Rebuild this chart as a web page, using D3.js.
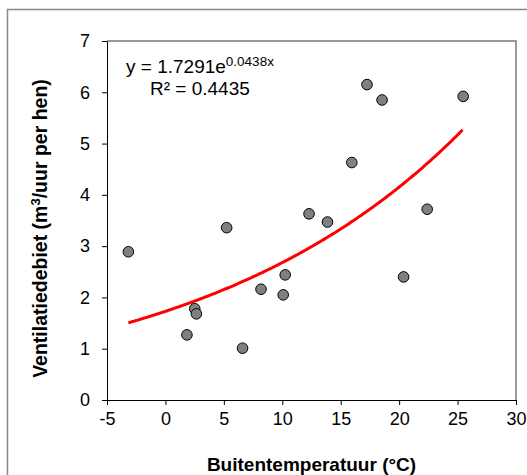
<!DOCTYPE html>
<html>
<head>
<meta charset="utf-8">
<script src="https://cdn.jsdelivr.net/npm/d3@7"></script>
<style>
body { margin: 0; background: #fff; }
text { font-family: Arial, "Liberation Sans", sans-serif; }
</style>
</head>
<body>
<script>
var w = 527;
var h = 475;

// buitentemperatuur (°C) and ventilatiedebiet (m3/uur per hen)
var temperature = [-3.17, 1.84, 2.51, 2.65, 5.24, 6.60, 8.18, 10.08, 10.25,
                   12.29, 13.87, 15.95, 17.25, 18.54, 20.38, 22.40, 25.48];
var ventilation = [2.89, 1.27, 1.78, 1.68, 3.36, 1.01, 2.16, 2.05, 2.44,
                   3.63, 3.47, 4.63, 6.15, 5.85, 2.40, 3.72, 5.92];

var xTicks = [-5, 0, 5, 10, 15, 20, 25, 30];
var yTicks = [0, 1, 2, 3, 4, 5, 6, 7];

// exponential trend line from the chart: y = a * e^(b x)
var fitA = 1.7291;
var fitB = 0.0438;
var r2 = 0.4435;

var margin = {left: 107, right: 11, top: 41, bottom: 75};

var xScale = d3.scaleLinear()
    .domain([-5, 30])
    .range([margin.left, w - margin.right]);

var yScale = d3.scaleLinear()
    .domain([0, 7])
    .range([h - margin.bottom, margin.top]);

var svg = d3.select("body")
    .append("svg")
    .attr("width", w)
    .attr("height", h);

// outer frame
svg.append("rect")
    .attr("x", 7.5)
    .attr("y", 9.5)
    .attr("width", w + 10)
    .attr("height", h + 10)
    .attr("fill", "none")
    .attr("stroke", "#888")
    .attr("stroke-width", 1.5);

// plot area top and right border
svg.append("path")
    .attr("d", "M" + xScale(-5) + "," + yScale(7) + "H" + xScale(30) + "V" + yScale(0))
    .attr("fill", "none")
    .attr("stroke", "#999")
    .attr("stroke-width", 2);

var xAxis = d3.axisBottom(xScale)
    .tickValues(xTicks)
    .tickSize(5)
    .tickSizeOuter(0)
    .tickPadding(7)
    .tickFormat(function(d){ return String(d); });

var yAxis = d3.axisLeft(yScale)
    .tickValues(yTicks)
    .tickSize(5)
    .tickSizeOuter(0)
    .tickPadding(12)
    .tickFormat(function(d){ return String(d); });

var gx = svg.append("g")
    .attr("transform", "translate(0," + yScale(0) + ")")
    .call(xAxis);

var gy = svg.append("g")
    .attr("transform", "translate(" + xScale(-5) + ",0)")
    .call(yAxis);

[gx, gy].forEach(function(g){
    g.selectAll("path, line").attr("stroke", "#000").attr("stroke-width", 1);
    g.selectAll("text")
        .attr("fill", "#000")
        .attr("font-size", "18px")
        .attr("font-family", "Arial, 'Liberation Sans', sans-serif");
});

// trend line
var curveX = d3.range(d3.min(temperature), d3.max(temperature) + 0.01, 0.1);
var line = d3.line()
    .x(function(d){ return xScale(d); })
    .y(function(d){ return yScale(fitA * Math.exp(fitB * d)); });

svg.append("path")
    .datum(curveX)
    .attr("d", line)
    .attr("fill", "none")
    .attr("stroke", "#ff0000")
    .attr("stroke-width", 3);

// points
svg.selectAll("circle")
    .data(temperature)
    .enter()
    .append("circle")
    .attr("cx", function(d){ return xScale(d); })
    .attr("cy", function(d, i){ return yScale(ventilation[i]); })
    .attr("r", 5.3)
    .attr("fill", "#808080")
    .attr("stroke", "#000")
    .attr("stroke-width", 1);

// equation
var eq = svg.append("text")
    .attr("x", 126)
    .attr("y", 73)
    .attr("font-size", "19px")
    .attr("fill", "#000");
eq.append("tspan").text("y = " + fitA + "e");
eq.append("tspan")
    .attr("font-size", "13.5px")
    .attr("dy", -7)
    .text(fitB + "x");

svg.append("text")
    .attr("x", 150)
    .attr("y", 95)
    .attr("font-size", "19px")
    .attr("fill", "#000")
    .text("R² = " + r2);

// axis titles
svg.append("text")
    .attr("x", (xScale(-5) + xScale(30)) / 2)
    .attr("y", 471)
    .attr("text-anchor", "middle")
    .attr("font-size", "19px")
    .attr("font-weight", "bold")
    .attr("fill", "#000")
    .text("Buitentemperatuur (°C)");

var yt = svg.append("text")
    .attr("transform", "translate(47," + ((yScale(0) + yScale(7)) / 2 + 8) + ") rotate(-90)")
    .attr("text-anchor", "middle")
    .attr("font-size", "19.5px")
    .attr("font-weight", "bold")
    .attr("fill", "#000");
yt.append("tspan").text("Ventilatiedebiet (m");
yt.append("tspan").attr("font-size", "13px").attr("dy", -7).text("3");
yt.append("tspan").attr("dy", 7).text("/uur per hen)");
</script>
</body>
</html>
